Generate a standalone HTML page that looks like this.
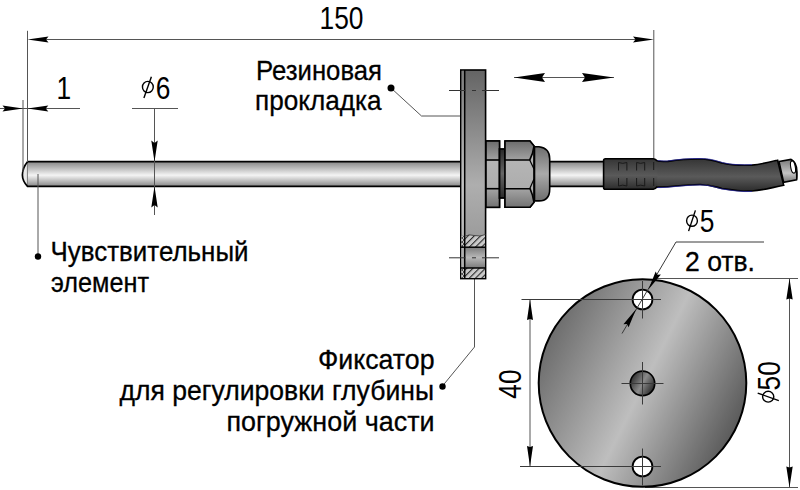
<!DOCTYPE html>
<html><head><meta charset="utf-8">
<style>
html,body{margin:0;padding:0;background:#fff;}
svg{display:block;}
text{font-family:"Liberation Sans",sans-serif;fill:#000;}
.tx{font-size:27.5px;stroke:#000;stroke-width:0.3px;}
.dg{font-size:31px;}
</style></head>
<body>
<svg width="800" height="490" viewBox="0 0 800 490">
<defs>
  <linearGradient id="rod" x1="0" y1="0" x2="0" y2="1">
    <stop offset="0" stop-color="#868686"/>
    <stop offset="0.55" stop-color="#f4f4f4"/>
    <stop offset="1" stop-color="#888"/>
  </linearGradient>
  <linearGradient id="flange" x1="0" y1="0" x2="0" y2="1">
    <stop offset="0" stop-color="#646464"/>
    <stop offset="0.55" stop-color="#aeaeae"/>
    <stop offset="0.8" stop-color="#9c9c9c"/>
    <stop offset="1" stop-color="#a0a0a0"/>
  </linearGradient>
  <linearGradient id="strip" x1="0" y1="0" x2="0" y2="1">
    <stop offset="0" stop-color="#7c7c7c"/>
    <stop offset="0.55" stop-color="#c4c4c4"/>
    <stop offset="1" stop-color="#b0b0b0"/>
  </linearGradient>
  <pattern id="xhatch" patternUnits="userSpaceOnUse" width="4" height="4">
    <rect width="4" height="4" fill="#c8c8c8"/>
    <path d="M0,0 L4,4 M4,0 L0,4" stroke="#333" stroke-width="0.8"/>
  </pattern>
  <linearGradient id="nut" x1="0" y1="0" x2="0" y2="1">
    <stop offset="0" stop-color="#8a8a8a"/>
    <stop offset="0.5" stop-color="#c8c8c8"/>
    <stop offset="1" stop-color="#7a7a7a"/>
  </linearGradient>
  <linearGradient id="secTop" x1="0" y1="0" x2="0" y2="1">
    <stop offset="0" stop-color="#6c6c6c"/>
    <stop offset="1" stop-color="#a2a2a2"/>
  </linearGradient>
  <linearGradient id="secMid" x1="0" y1="0" x2="0" y2="1">
    <stop offset="0" stop-color="#bababa"/>
    <stop offset="1" stop-color="#a8a8a8"/>
  </linearGradient>
  <linearGradient id="secBot" x1="0" y1="0" x2="0" y2="1">
    <stop offset="0" stop-color="#a4a4a4"/>
    <stop offset="1" stop-color="#727272"/>
  </linearGradient>
  <linearGradient id="secMid2" x1="0" y1="0" x2="0" y2="1">
    <stop offset="0" stop-color="#7a7a7a"/>
    <stop offset="0.5" stop-color="#b8b8b8"/>
    <stop offset="1" stop-color="#7a7a7a"/>
  </linearGradient>
  <linearGradient id="dome" x1="0" y1="0" x2="0" y2="1">
    <stop offset="0" stop-color="#6e6e6e"/>
    <stop offset="0.5" stop-color="#aaaaaa"/>
    <stop offset="1" stop-color="#6e6e6e"/>
  </linearGradient>
  <linearGradient id="washer" x1="0" y1="0" x2="0" y2="1">
    <stop offset="0" stop-color="#2a2a2a"/>
    <stop offset="0.5" stop-color="#666"/>
    <stop offset="1" stop-color="#2a2a2a"/>
  </linearGradient>
  <linearGradient id="tip" x1="0" y1="0" x2="0" y2="1">
    <stop offset="0" stop-color="#7a7a7a"/>
    <stop offset="0.6" stop-color="#c4c4c4"/>
    <stop offset="1" stop-color="#777"/>
  </linearGradient>
  <linearGradient id="sleeve" x1="0" y1="0" x2="0" y2="1">
    <stop offset="0" stop-color="#353535"/>
    <stop offset="0.55" stop-color="#5a5a5a"/>
    <stop offset="1" stop-color="#2c2c2c"/>
  </linearGradient>
  <linearGradient id="disc" gradientUnits="userSpaceOnUse" x1="548" y1="336" x2="736" y2="430">
    <stop offset="0" stop-color="#6c6c6c"/>
    <stop offset="0.51" stop-color="#bebebe"/>
    <stop offset="1" stop-color="#5a5a5a"/>
  </linearGradient>
  <linearGradient id="hole" x1="0.05" y1="0.25" x2="0.95" y2="0.75">
    <stop offset="0" stop-color="#2e2e2e"/>
    <stop offset="0.5" stop-color="#8a8a8a"/>
    <stop offset="1" stop-color="#2a2a2a"/>
  </linearGradient>
  <pattern id="hatch" patternUnits="userSpaceOnUse" width="4.4" height="4.4" patternTransform="rotate(45)">
    <rect width="4.4" height="4.4" fill="#cacaca"/>
    <rect x="0" y="0" width="1.1" height="4.4" fill="#2a2a2a"/>
  </pattern>
</defs>

<!-- ===== rod ===== -->
<rect x="27.5" y="161.7" width="580" height="24.6" fill="url(#rod)"/>
<path d="M27.5,161.7 Q22.4,168 22.4,175 Q22.4,181 27.5,186.3 Z" fill="#eaeaea"/>
<line x1="27.4" y1="162" x2="27.4" y2="186" stroke="#777" stroke-width="1"/>
<path d="M607.5,161.7 H27.5 Q22.4,168 22.4,175 Q22.4,181 27.5,186.3 H607.5" fill="none" stroke="#000" stroke-width="1.7"/>

<!-- ===== dimension 150 ===== -->
<g stroke="#555" stroke-width="1" fill="none">
  <line x1="27.5" y1="30.8" x2="27.5" y2="162"/>
  <line x1="653.8" y1="30" x2="653.8" y2="159"/>
  <line x1="40" y1="39.5" x2="640" y2="39.5"/>
  <!-- dim 1 -->
  <line x1="0" y1="108.5" x2="80" y2="108.5"/>
  <line x1="23" y1="100" x2="23" y2="172"/>
  <!-- dim 6 -->
  <line x1="132" y1="108.5" x2="178" y2="108.5"/>
  <line x1="154.5" y1="108" x2="154.5" y2="215"/>
  <!-- leaders -->
  <polyline points="391,88 421.5,116 460,116"/>
  <line x1="38" y1="174" x2="38" y2="256"/>
  <polyline points="474.5,279 474.5,347 442.5,386"/>
  <line x1="514" y1="77.5" x2="614" y2="77.5"/>
</g>
<g fill="#000">
  <path d="M27.5,39.5 L48.5,36.5 L46,39.5 L48.5,42.5 Z"/>
  <path d="M653.8,39.5 L633,36.5 L635.5,39.5 L633,42.5 Z"/>
  <path d="M23,108.5 L2.5,105.5 L5,108.5 L2.5,111.5 Z"/>
  <path d="M27.5,108.5 L48.3,105.5 L45.8,108.5 L48.3,111.5 Z"/>
  <path d="M154.5,161.7 L151.3,140.5 L154.5,143 L157.7,140.5 Z"/>
  <path d="M154.5,186.3 L151.3,207.5 L154.5,205 L157.7,207.5 Z"/>
  <path d="M514,77.5 L545,73 L542,77.5 L545,82 Z"/>
  <path d="M614,77.5 L582,73 L585,77.5 L582,82 Z"/>
  <circle cx="391" cy="88" r="3.5"/>
  <circle cx="38" cy="256.5" r="3.2"/>
  <circle cx="442.5" cy="386.5" r="3.2"/>
</g>


<!-- ===== flange ===== -->
<rect x="460.8" y="70" width="24.8" height="208.6" fill="url(#flange)" stroke="#000" stroke-width="1.6"/>
<rect x="461.6" y="70.8" width="3" height="207" fill="url(#strip)"/>
<!-- hatched sections -->
<path d="M461.6,236 Q468,234 473,235.5 Q479,237 485,234.5 L485,247 L461.6,247 Z" fill="url(#hatch)"/>
<rect x="461.6" y="268" width="23.4" height="10" fill="url(#hatch)"/>
<rect x="461.6" y="236" width="3" height="11" fill="url(#xhatch)"/>
<rect x="461.6" y="268" width="3" height="10" fill="url(#xhatch)"/>
<rect x="461.6" y="247" width="23.4" height="21" fill="url(#secMid2)"/>
<rect x="461.6" y="247" width="3" height="21" fill="#b0b0b0"/>
<line x1="464.7" y1="70" x2="464.7" y2="278.6" stroke="#000" stroke-width="1.5"/>
<line x1="460.8" y1="247.2" x2="485.6" y2="247.2" stroke="#000" stroke-width="1.5"/>
<line x1="460.8" y1="268" x2="485.6" y2="268" stroke="#000" stroke-width="1.5"/>
<path d="M464.7,236 Q470,234 474,235.5 Q480,237 485.6,234.5" fill="none" stroke="#333" stroke-width="0.8"/>
<!-- centerlines -->
<g stroke="#333" stroke-width="1" fill="none">
  <path d="M449,90.5 H465.5 M472,90.5 H476 M482,90.5 H499"/>
  <path d="M449,257.8 H465.5 M472,257.8 H476 M482,257.8 H499"/>
</g>

<!-- ===== nuts ===== -->
<g stroke="#000" stroke-width="1.6">
  <rect x="486" y="141" width="13.5" height="66.3" fill="url(#secMid)"/>
  <rect x="486" y="141" width="13.5" height="19" fill="url(#secTop)"/>
  <rect x="486" y="188.7" width="13.5" height="18.6" fill="url(#secBot)"/>
  <rect x="499.5" y="149" width="6" height="49" fill="url(#washer)" stroke-width="1.8"/>
  <path d="M505,141 H530 L534,146 V202.3 L530,207.3 H505 Z" fill="url(#secMid)"/>
  <path d="M505,141 H530 L534,146 Q533,154 529.7,160 H505 Z" fill="url(#secTop)"/>
  <path d="M505,188.7 H530 Q533,195 534,202.3 L530,207.3 H505 Z" fill="url(#secBot)"/>
  <path d="M529.7,160 L534,169 M529.7,188.7 L534,179" fill="none" stroke-width="1.2"/>
  <path d="M534.5,146.8 H539 Q549.7,148 549.7,159 V189 Q549.7,200.9 539,200.9 H534.5 Z" fill="url(#dome)"/>
</g>
<!-- ===== sleeve & cable ===== -->
<path d="M779,161.4 L791,159.4 Q797,162 797,172 Q797,178 796.6,179.8 L783.7,182.3 Z" fill="url(#tip)" stroke="#000" stroke-width="1.5"/>
<path d="M791,159.4 Q797,163 796.6,179.8" fill="none" stroke="#000" stroke-width="1.3"/>
<ellipse cx="793" cy="167" rx="2.3" ry="6.2" transform="rotate(-10 793 167)" fill="#fff" stroke="#000" stroke-width="1.1"/>
<path d="M652,160.7 C660,161 664,161.8 668,161.4 C680,159.6 690,158.8 700,159 C710,159.2 714,160.5 722,163 C732,165.5 742,165.5 752,165.1 C762,164 770,162 777.6,160.2 L783.7,185.3 C770,188 762,190.5 752,191 C742,191.5 732,190 722,188.5 C714,186.5 710,184.5 700,184.5 C690,184.5 680,185.6 668,186.7 C662,187.2 658,187.1 652,187.1 Z" fill="url(#sleeve)" stroke="#000" stroke-width="1.6"/>
<path d="M652,160.2 C660,160.5 664,161.3 668,160.9 C680,159.1 690,158.3 700,158.5 C710,158.7 714,160 722,162.5 C732,165 742,165 752,164.6" fill="none" stroke="#2020a0" stroke-width="0.8" opacity="0.9"/>
<path d="M652,187.6 C658,187.6 662,187.7 668,187.2 C680,186.1 690,185 700,185 C710,185 714,187 722,189 C732,190.5 742,192 752,191.5" fill="none" stroke="#2020a0" stroke-width="0.8" opacity="0.9"/>
<path d="M603.6,160.5 Q603.6,158.7 605.5,158.7 H653.3 Q655.5,159 657.3,161 V186.6 Q655.5,189 653.3,189.3 H605.5 Q603.6,189.3 603.6,187.5 Z" fill="url(#sleeve)"/>
<path d="M657.3,161 Q655.5,159 653.3,158.7 H605.5 Q603.6,158.7 603.6,160.5 V187.5 Q603.6,189.3 605.5,189.3 H653.3 Q655.5,189 657.3,186.6" fill="none" stroke="#000" stroke-width="1.6"/>
<g stroke="#1a1a1a" stroke-width="1" fill="none">
  <path d="M618.5,170.5 V162.5 Q622.7,164.2 626.9,162.5 V170.5 M636.6,170.5 V162.5 Q640.6,164.2 644.7,162.5 V170.5"/>
  <path d="M618.5,178 V186 Q622.7,184.3 626.9,186 V178 M636.6,178 V186 Q640.6,184.3 644.7,186 V178"/>
  <path d="M653.7,162 V170 M653.7,178 V186"/>
</g>
<!-- ===== disc ===== -->
<g stroke="#555" stroke-width="1" fill="none">
  <line x1="530" y1="299.5" x2="530" y2="466.5"/>
  <line x1="657" y1="278.5" x2="798" y2="278.5"/>
  <line x1="645" y1="487.5" x2="798" y2="487.5"/>
  <line x1="789.5" y1="278.5" x2="789.5" y2="487.5"/>
</g>
<circle cx="642.5" cy="383" r="103.8" fill="url(#disc)" stroke="#000" stroke-width="2"/>
<circle cx="642.5" cy="299.5" r="9.9" fill="#fff" stroke="#000" stroke-width="1.8"/>
<circle cx="642.5" cy="466.5" r="9.9" fill="#fff" stroke="#000" stroke-width="1.8"/>
<circle cx="642.5" cy="383.4" r="12.2" fill="url(#hole)" stroke="#000" stroke-width="1.7"/>
<g stroke="#3a3a3a" stroke-width="1" fill="none">
  <line x1="521.5" y1="299.5" x2="661" y2="299.5"/>
  <line x1="520" y1="466.5" x2="661" y2="466.5"/>
  <line x1="642.5" y1="281" x2="642.5" y2="318.5"/>
  <line x1="642.5" y1="448.5" x2="642.5" y2="485.5"/>
  <line x1="642.5" y1="362" x2="642.5" y2="404.5"/>
  <line x1="621.5" y1="383.5" x2="663.5" y2="383.5"/>
  <polyline points="622,333.5 676,242 764,242"/>
</g>
<g fill="#000">
  <path d="M530,299.5 L527,320 L530,319 L533,320 Z"/>
  <path d="M530,466.5 L527,446 L530,447 L533,446 Z"/>
  <path d="M789.5,278.5 L786.3,299.5 L789.5,298.5 L792.7,299.5 Z"/>
  <path d="M789.5,487.5 L786.3,466.5 L789.5,467.5 L792.7,466.5 Z"/>
  <path d="M648.4,289.6 L660.9,274.6 L657.3,274.8 L655.7,271.6 Z"/>
  <path d="M636,309.3 L623.4,324.2 L627,324 L628.6,327.2 Z"/>
</g>

<!-- ===== text ===== -->
<text class="dg" x="341.5" y="29" text-anchor="middle" transform="translate(341.5 0) scale(0.85 1) translate(-341.5 0)">150</text>
<text class="dg" x="63.8" y="98.6" text-anchor="middle" transform="translate(63.8 0) scale(0.85 1) translate(-63.8 0)">1</text>
<g fill="none" stroke="#000" stroke-width="1.4">
  <ellipse cx="147.85" cy="87" rx="5.4" ry="5.6"/>
  <line x1="151.4" y1="76.8" x2="143.9" y2="97.9"/>
</g>
<text class="dg" x="163.2" y="98.6" text-anchor="middle" transform="translate(163.2 0) scale(0.85 1) translate(-163.2 0)">6</text>
<text class="tx" x="256" y="80" textLength="126" lengthAdjust="spacingAndGlyphs">Резиновая</text>
<text class="tx" x="255" y="110" textLength="126.5" lengthAdjust="spacingAndGlyphs">прокладка</text>
<text class="tx" x="50.5" y="261" textLength="198" lengthAdjust="spacingAndGlyphs">Чувствительный</text>
<text class="tx" x="51" y="291.5" textLength="98" lengthAdjust="spacingAndGlyphs">элемент</text>
<text class="tx" x="318" y="368.8" textLength="116.5" lengthAdjust="spacingAndGlyphs">Фиксатор</text>
<text class="tx" x="119.5" y="399.6" textLength="314.5" lengthAdjust="spacingAndGlyphs">для регулировки глубины</text>
<text class="tx" x="226.5" y="430.5" textLength="208" lengthAdjust="spacingAndGlyphs">погружной части</text>
<g fill="none" stroke="#000" stroke-width="1.4">
  <ellipse cx="692" cy="220.7" rx="5.4" ry="5.6"/>
  <line x1="695.4" y1="210.4" x2="688.6" y2="231.1"/>
</g>
<text class="dg" x="707" y="232" text-anchor="middle" transform="translate(707 0) scale(0.85 1) translate(-707 0)">5</text>
<text class="tx" x="685" y="270.5" textLength="70" lengthAdjust="spacingAndGlyphs">2 отв.</text>
<g transform="translate(520.8 384) rotate(-90)">
  <text class="dg" x="0" y="0" text-anchor="middle" transform="scale(0.85 1)">40</text>
</g>
<g transform="translate(780.3 375.8) rotate(-90)">
  <text class="dg" x="0" y="0" text-anchor="middle" transform="scale(0.85 1)">50</text>
  <ellipse cx="-20.9" cy="-12.1" rx="5.4" ry="5.6" fill="none" stroke="#000" stroke-width="1.4"/>
  <line x1="-17.3" y1="-22.6" x2="-24.8" y2="-1.5" stroke="#000" stroke-width="1.4"/>
</g>
</svg>
</body></html>
